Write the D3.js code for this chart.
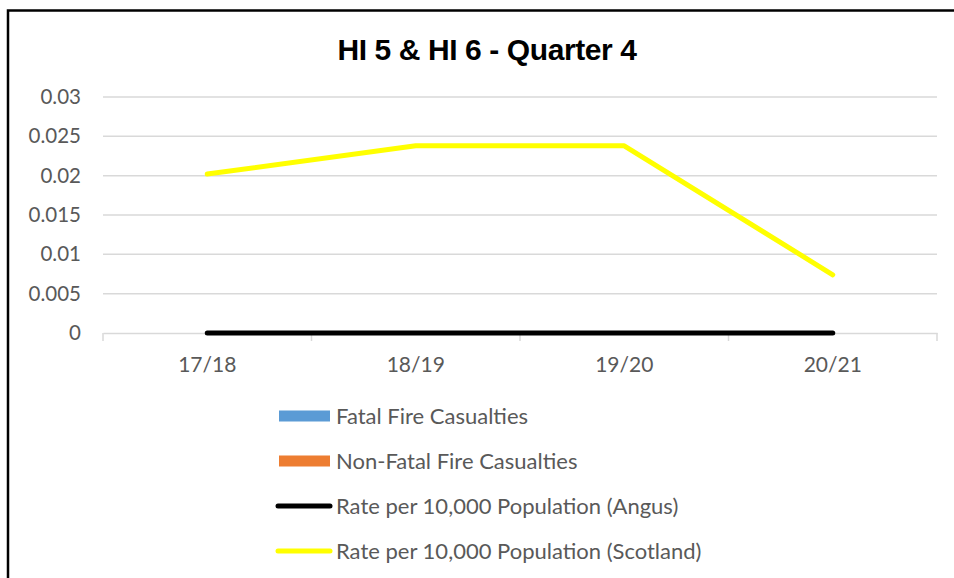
<!DOCTYPE html>
<html>
<head>
    <meta charset="utf-8"/>
    <title>HI 5 & HI 6 - Quarter 4</title>
    <script src="https://d3js.org/d3.v7.min.js"></script>
    <style>
        body { margin: 0; background: #ffffff; }
        svg text { font-family: Lato, "Open Sans", sans-serif; fill: #595959; }
        .title { font-family: "Liberation Sans", Arial, sans-serif; font-weight: bold; fill: #000000; }
    </style>
</head>
<body>
<div id="chart"></div>
<script>

    // chart values
    var years = ["17/18", "18/19", "19/20", "20/21"];
    var fatal = [0, 0, 0, 0];
    var nonFatal = [0, 0, 0, 0];
    var rateAngus = [0, 0, 0, 0];
    var rateScotland = [0.0202, 0.0238, 0.0238, 0.0074];
    var yTicks = [0, 0.005, 0.01, 0.015, 0.02, 0.025, 0.03];
    var yTickLabels = ["0", "0.005", "0.01", "0.015", "0.02", "0.025", "0.03"];

    var legendItems = [
        {label: "Fatal Fire Casualties", color: "#5B9BD5", kind: "bar"},
        {label: "Non-Fatal Fire Casualties", color: "#ED7D31", kind: "bar"},
        {label: "Rate per 10,000 Population (Angus)", color: "#000000", kind: "line"},
        {label: "Rate per 10,000 Population (Scotland)", color: "#FFFF00", kind: "line"}
    ];

    var width = 954,
        height = 578,
        margin = {top: 97, right: 17, bottom: 245, left: 103};

    var svg = d3.select("#chart").append("svg")
        .attr("width", width)
        .attr("height", height);

    svg.append("rect")
        .attr("width", width).attr("height", height)
        .attr("fill", "#ffffff");

    // chart frame (runs past the right and bottom edge)
    svg.append("rect")
        .attr("x", 8).attr("y", 10.5)
        .attr("width", width + 20).attr("height", height + 20)
        .attr("fill", "none")
        .attr("stroke", "#000000")
        .attr("stroke-width", 2.5);

    svg.append("text")
        .attr("class", "title")
        .attr("x", 487).attr("y", 60)
        .attr("text-anchor", "middle")
        .style("font-size", "30px")
        .style("letter-spacing", "-0.4px")
        .text("HI 5 & HI 6 - Quarter 4");

    var innerW = width - margin.left - margin.right,
        innerH = height - margin.top - margin.bottom;

    var x = d3.scaleBand().domain(years).range([0, innerW]);
    var y = d3.scaleLinear().domain([0, 0.03]).range([innerH, 0]);

    var g = svg.append("g")
        .attr("transform", "translate(" + margin.left + "," + margin.top + ")");

    // gridlines
    g.append("g").attr("class", "grid")
        .selectAll("line").data(yTicks.slice(1)).enter()
        .append("line")
        .attr("x1", 0).attr("x2", innerW)
        .attr("y1", function(d) { return y(d); })
        .attr("y2", function(d) { return y(d); })
        .attr("stroke", "#d9d9d9")
        .attr("stroke-width", 1.5);

    // y axis labels
    var yAxis = g.append("g")
        .call(d3.axisLeft(y).tickValues(yTicks)
            .tickFormat(function(d, i) { return yTickLabels[i]; })
            .tickSize(0).tickPadding(22));
    yAxis.select(".domain").remove();
    yAxis.selectAll("text").style("font-size", "20.5px").attr("fill", "#595959");

    // x axis with ticks between categories
    var xAxis = g.append("g")
        .attr("transform", "translate(0," + innerH + ")")
        .call(d3.axisBottom(x).tickSize(0).tickPadding(24));
    xAxis.select(".domain").attr("stroke", "#d9d9d9").attr("stroke-width", 1.5);
    xAxis.selectAll("text").style("font-size", "21px").attr("fill", "#595959");
    g.append("g").selectAll("line")
        .data(years.concat(["end"])).enter()
        .append("line")
        .attr("x1", function(d, i) { return i * x.step(); })
        .attr("x2", function(d, i) { return i * x.step(); })
        .attr("y1", innerH).attr("y2", innerH + 8)
        .attr("stroke", "#d9d9d9")
        .attr("stroke-width", 1.5);

    // bars (all zero)
    var inner = d3.scaleBand().domain(["fatal", "nonFatal"]).range([0, x.bandwidth()]).padding(0.2);
    [fatal, nonFatal].forEach(function(series, k) {
        g.append("g").selectAll("rect").data(series).enter()
            .append("rect")
            .attr("x", function(d, i) { return x(years[i]) + inner(k ? "nonFatal" : "fatal"); })
            .attr("width", inner.bandwidth())
            .attr("y", function(d) { return y(d); })
            .attr("height", function(d) { return innerH - y(d); })
            .attr("fill", legendItems[k].color);
    });

    var line = d3.line()
        .x(function(d, i) { return x(years[i]) + x.bandwidth() / 2; })
        .y(function(d) { return y(d); });

    g.append("path").datum(rateScotland)
        .attr("d", line)
        .attr("fill", "none")
        .attr("stroke", "#FFFF00")
        .attr("stroke-width", 5)
        .attr("stroke-linecap", "round")
        .attr("stroke-linejoin", "round");

    g.append("path").datum(rateAngus)
        .attr("d", line)
        .attr("fill", "none")
        .attr("stroke", "#000000")
        .attr("stroke-width", 5)
        .attr("stroke-linecap", "round")
        .attr("stroke-linejoin", "round");

    // legend
    var legend = svg.append("g").attr("transform", "translate(279,416)");
    var rows = legend.selectAll("g").data(legendItems).enter()
        .append("g")
        .attr("transform", function(d, i) { return "translate(0," + (i * 45) + ")"; });

    rows.filter(function(d) { return d.kind === "bar"; })
        .append("rect")
        .attr("x", 0).attr("y", -5.5)
        .attr("width", 51).attr("height", 11)
        .attr("fill", function(d) { return d.color; });

    rows.filter(function(d) { return d.kind === "line"; })
        .append("line")
        .attr("x1", -1).attr("x2", 51)
        .attr("y1", 0).attr("y2", 0)
        .attr("stroke", function(d) { return d.color; })
        .attr("stroke-width", 5)
        .attr("stroke-linecap", "round");

    rows.append("text")
        .attr("x", 57).attr("y", 0)
        .attr("dy", "0.35em")
        .style("font-size", "22px")
        .text(function(d) { return d.label; });

</script>
</body>
</html>
